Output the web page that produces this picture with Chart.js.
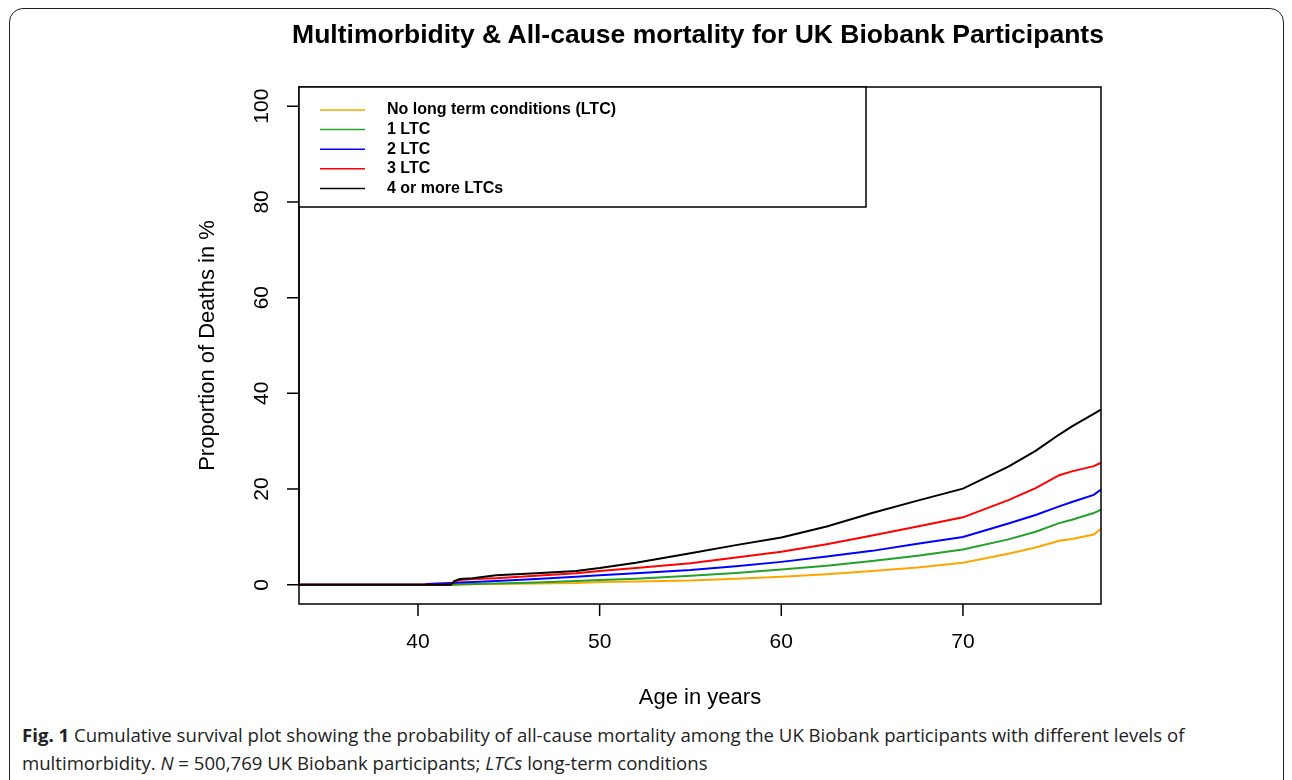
<!DOCTYPE html>
<html>
<head>
<meta charset="utf-8">
<script src="https://cdn.jsdelivr.net/npm/chart.js@4/dist/chart.umd.min.js"></script>
<style>
  body { margin: 0; background: #fff; width: 1292px; height: 780px; overflow: hidden; position: relative; }
  #frame { position: absolute; left: 9px; top: 8px; width: 1275px; height: 790px; border: 1.5px solid #222; border-radius: 14px; box-sizing: border-box; }
  #title { position: absolute; left: 0; top: 19px; width: 1396px; text-align: center; font: bold 26.5px "Liberation Sans", Arial, sans-serif; color: #000; }
  #chart { position: absolute; left: 0; top: 0; }
  #caption { position: absolute; left: 22px; top: 721px; font: 18.6px "Open Sans", sans-serif; line-height: 28px; color: #222; white-space: nowrap; }
</style>
</head>
<body>
<div id="frame"></div>
<canvas id="chart" width="1292" height="720"></canvas>
<div id="title">Multimorbidity &amp; All-cause mortality for UK Biobank Participants</div>
<div id="caption"><b>Fig. 1</b> Cumulative survival plot showing the probability of all-cause mortality among the UK Biobank participants with different levels of<br>multimorbidity. <i>N</i> = 500,769 UK Biobank participants; <i>LTCs</i> long-term conditions</div>
<script>
// age in years (x) and cumulative % deaths per group
const ages = [33.45, 40, 40.3, 40.5, 41, 41.8, 42, 42.3, 43, 44.3, 46.5, 48.7, 50, 52, 55, 57.5, 60, 62.5, 65, 67.5, 70, 72.5, 74, 75.3, 76, 77.2, 77.6];
const noLtc  = [0, 0, 0, 0, 0, 0, 0, 0, 0.1, 0.2, 0.3, 0.4, 0.6, 0.7, 0.9, 1.3, 1.7, 2.2, 2.9, 3.6, 4.6, 6.5, 7.8, 9.2, 9.6, 10.5, 11.7];
const oneLtc = [0, 0, 0, 0, 0, 0, 0, 0.1, 0.2, 0.3, 0.5, 0.8, 1.0, 1.3, 1.9, 2.5, 3.2, 4.0, 5.0, 6.1, 7.4, 9.5, 11.1, 12.9, 13.6, 15.0, 15.7];
const twoLtc = [0, 0, 0, 0.2, 0.3, 0.4, 0.4, 0.5, 0.6, 0.8, 1.2, 1.7, 2.0, 2.4, 3.1, 3.9, 4.8, 5.9, 7.1, 8.6, 10.0, 12.8, 14.6, 16.4, 17.3, 18.8, 19.9];
const threeLtc = [0, 0, 0, 0, 0, 0, 0.7, 1.0, 1.2, 1.4, 1.9, 2.4, 2.9, 3.5, 4.5, 5.7, 6.9, 8.5, 10.3, 12.2, 14.1, 17.7, 20.2, 22.9, 23.7, 24.8, 25.5];
const fourPlus = [0, 0, 0, 0, 0, 0, 0.8, 1.2, 1.4, 2.0, 2.4, 2.9, 3.5, 4.6, 6.6, 8.3, 9.9, 12.2, 15.0, 17.6, 20.1, 24.7, 28.0, 31.4, 33.1, 35.7, 36.6];

const groupNames = ["No long term conditions (LTC)", "1 LTC", "2 LTC", "3 LTC", "4 or more LTCs"];
const groupColors = ["#FFA500", "#22A22A", "#0000FF", "#FF0000", "#000000"];
const xTicks = [40, 50, 60, 70];
const yTicks = [0, 20, 40, 60, 80, 100];

const series = [noLtc, oneLtc, twoLtc, threeLtc, fourPlus];
const FONT = '"Liberation Sans", Arial, sans-serif';

// R base-graphics look: box, outward ticks, rotated y labels, legend box
const rStyle = {
  id: 'rStyle',
  afterDraw(chart) {
    const { ctx, chartArea: a, scales: { x, y } } = chart;
    ctx.save();
    ctx.strokeStyle = '#000';
    ctx.fillStyle = '#000';
    ctx.lineWidth = 1.5;
    ctx.strokeRect(a.left, a.top, a.right - a.left, a.bottom - a.top);

    ctx.font = '21px ' + FONT;
    ctx.textAlign = 'center';
    ctx.textBaseline = 'middle';

    ctx.beginPath();
    ctx.moveTo(a.left, y.getPixelForValue(0));
    ctx.lineTo(a.left, y.getPixelForValue(100));
    yTicks.forEach(v => {
      const py = y.getPixelForValue(v);
      ctx.moveTo(a.left - 12, py);
      ctx.lineTo(a.left, py);
    });
    xTicks.forEach(v => {
      const px = x.getPixelForValue(v);
      ctx.moveTo(px, a.bottom);
      ctx.lineTo(px, a.bottom + 12);
    });
    ctx.stroke();

    yTicks.forEach(v => {
      const py = y.getPixelForValue(v);
      ctx.save();
      ctx.translate(a.left - 37, py);
      ctx.rotate(-Math.PI / 2);
      ctx.fillText(String(v), 0, 0);
      ctx.restore();
    });
    xTicks.forEach(v => {
      ctx.fillText(String(v), x.getPixelForValue(v), a.bottom + 38);
    });

    // axis titles
    ctx.font = '22px ' + FONT;
    ctx.fillText('Age in years', (a.left + a.right) / 2, a.bottom + 94);
    ctx.save();
    ctx.translate(a.left - 91, (a.top + a.bottom) / 2);
    ctx.rotate(-Math.PI / 2);
    ctx.fillText('Proportion of Deaths in %', 0, 0);
    ctx.restore();

    // legend
    ctx.fillStyle = '#fff';
    ctx.fillRect(a.left, a.top, 567, 120);
    ctx.strokeRect(a.left, a.top, 567, 120);
    ctx.font = 'bold 16px ' + FONT;
    ctx.textAlign = 'left';
    chart.data.datasets.forEach((ds, i) => {
      const ry = a.top + 23 + i * 19.6;
      ctx.strokeStyle = ds.borderColor;
      ctx.lineWidth = 1.5;
      ctx.beginPath();
      ctx.moveTo(a.left + 21, ry);
      ctx.lineTo(a.left + 66, ry);
      ctx.stroke();
      ctx.fillStyle = '#000';
      ctx.fillText(ds.label, a.left + 88, ry);
    });
    ctx.restore();
  }
};

new Chart(document.getElementById('chart'), {
  type: 'line',
  data: {
    datasets: series.map((vals, i) => ({
      label: groupNames[i],
      data: ages.map((age, j) => ({ x: age, y: vals[j] })),
      borderColor: groupColors[i],
      borderWidth: 2,
      pointRadius: 0,
      tension: 0,
      fill: false,
      order: series.length - i
    }))
  },
  options: {
    responsive: false,
    animation: false,
    devicePixelRatio: 1,
    layout: { padding: { left: 299, right: 191, top: 87, bottom: 116 } },
    plugins: { legend: { display: false }, tooltip: { enabled: false }, title: { display: false } },
    scales: {
      x: { type: 'linear', min: 33.45, max: 77.6, display: false },
      y: { type: 'linear', min: -4, max: 104, display: false }
    }
  },
  plugins: [rStyle]
});
</script>
</body>
</html>
